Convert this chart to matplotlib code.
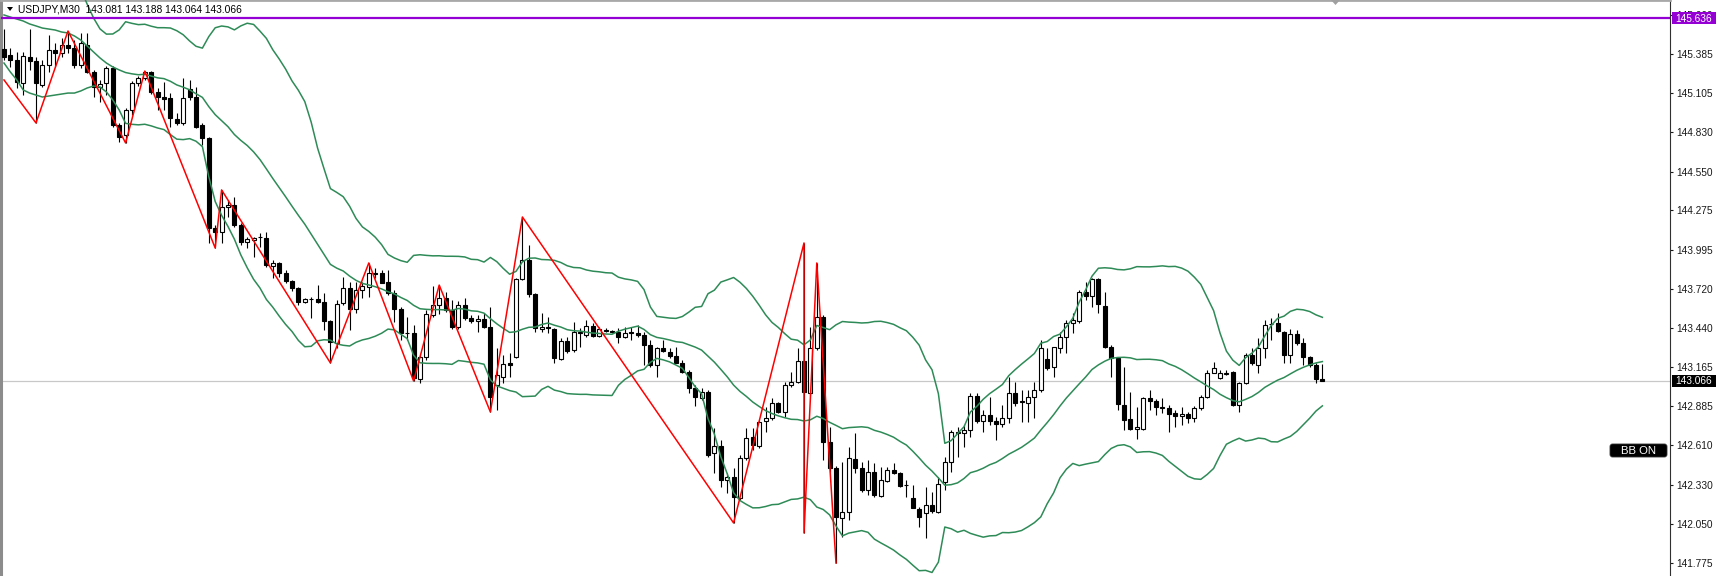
import matplotlib
matplotlib.use("Agg")
import matplotlib.pyplot as plt
import numpy as np
import pandas as pd
from matplotlib.patches import Rectangle, Polygon, FancyBboxPatch

# ---------------- data (USDJPY M30) ----------------
opens = [
    145.419, 145.377, 145.341, 145.179, 145.362, 145.334, 145.165, 145.306, 145.412, 145.391,
    145.448, 145.426, 145.306, 145.448, 145.257, 145.150, 145.179, 145.285, 144.880, 144.809,
    144.987, 145.179, 145.214, 145.256, 145.115, 145.079, 145.072, 144.923, 144.895, 145.136,
    145.079, 144.880, 144.788, 144.150, 144.122, 144.299, 144.314, 144.172, 144.051, 144.065,
    144.083, 144.079, 143.880, 143.902, 143.831, 143.774, 143.724, 143.625, 143.643, 143.646,
    143.625, 143.491, 143.335, 143.618, 143.724, 143.575, 143.710, 143.731, 143.831, 143.831,
    143.767, 143.689, 143.575, 143.406, 143.406, 143.079, 143.235, 143.533, 143.604, 143.653,
    143.568, 143.448, 143.604, 143.512, 143.491, 143.505, 143.448, 143.037, 143.094, 143.193,
    143.235, 143.788, 143.923, 143.682, 143.434, 143.448, 143.434, 143.221, 143.349, 143.285,
    143.413, 143.392, 143.455, 143.384, 143.427, 143.416, 143.413, 143.377, 143.413, 143.406,
    143.392, 143.320, 143.179, 143.299, 143.271, 143.242, 143.193, 143.129, 143.015, 142.944,
    142.987, 142.554, 142.604, 142.363, 142.384, 142.235, 142.519, 142.667, 142.604, 142.781,
    142.802, 142.909, 142.845, 143.037, 143.058, 143.207, 142.980, 143.299, 143.519, 142.632,
    142.448, 142.093, 142.136, 142.512, 142.448, 142.292, 142.420, 142.249, 142.356, 142.434,
    142.412, 142.327, 142.235, 142.157, 142.129, 142.186, 142.136, 142.349, 142.491, 142.696,
    142.696, 142.717, 142.958, 142.781, 142.824, 142.781, 142.760, 142.802, 142.980, 142.920,
    142.909, 142.951, 143.001, 143.221, 143.164, 143.299, 143.377, 143.477, 143.491, 143.696,
    143.668, 143.788, 143.597, 143.306, 143.228, 142.895, 142.795, 142.724, 142.724, 142.944,
    142.923, 142.877, 142.873, 142.838, 142.816, 142.831, 142.802, 142.873, 142.951, 143.122,
    143.086, 143.118, 143.129, 142.895, 143.051, 143.249, 143.179, 143.299, 143.466, 143.477,
    143.413, 143.249, 143.398, 143.335, 143.235, 143.179, 143.081,
]
highs = [
    145.561, 145.426, 145.398, 145.398, 145.561, 145.362, 145.341, 145.519, 145.462, 145.497,
    145.547, 145.483, 145.533, 145.533, 145.271, 145.200, 145.299, 145.299, 144.895, 145.001,
    145.193, 145.228, 145.263, 145.263, 145.143, 145.185, 145.107, 144.966, 145.214, 145.200,
    145.150, 144.895, 144.795, 144.172, 144.420, 144.349, 144.370, 144.186, 144.086, 144.086,
    144.115, 144.122, 143.923, 143.909, 143.852, 143.781, 143.731, 143.653, 143.660, 143.745,
    143.689, 143.498, 143.639, 143.802, 143.767, 143.767, 143.767, 143.902, 143.866, 143.852,
    143.852, 143.710, 143.590, 143.519, 143.462, 143.249, 143.568, 143.738, 143.745, 143.696,
    143.639, 143.632, 143.653, 143.533, 143.533, 143.547, 143.590, 143.299, 143.249, 143.264,
    143.795, 144.228, 144.030, 143.689, 143.547, 143.519, 143.441, 143.370, 143.377, 143.484,
    143.441, 143.498, 143.477, 143.448, 143.441, 143.427, 143.441, 143.448, 143.448, 143.462,
    143.413, 143.356, 143.306, 143.356, 143.299, 143.306, 143.214, 143.143, 143.037, 143.015,
    143.001, 142.731, 142.646, 142.412, 142.448, 142.540, 142.731, 142.731, 142.788, 142.880,
    142.944, 142.916, 143.058, 143.129, 143.299, 144.044, 143.448, 143.902, 143.533, 142.738,
    142.462, 142.491, 142.597, 142.696, 142.491, 142.505, 142.484, 142.455, 142.455, 142.484,
    142.420, 142.363, 142.327, 142.171, 142.313, 142.278, 142.384, 142.526, 142.717, 142.738,
    142.752, 142.980, 142.980, 142.859, 142.951, 142.810, 142.894, 143.094, 143.058, 143.001,
    143.001, 143.058, 143.356, 143.299, 143.306, 143.413, 143.498, 143.547, 143.710, 143.767,
    143.795, 143.795, 143.696, 143.320, 143.235, 143.164, 142.987, 142.880, 142.951, 143.001,
    142.937, 142.944, 142.894, 142.859, 142.880, 142.845, 142.887, 142.966, 143.143, 143.200,
    143.143, 143.143, 143.135, 143.058, 143.264, 143.299, 143.370, 143.498, 143.512, 143.547,
    143.420, 143.434, 143.427, 143.370, 143.240, 143.193, 143.188,
]
lows = [
    145.341, 145.291, 145.143, 145.094, 145.271, 144.895, 145.150, 145.257, 145.291, 145.362,
    145.391, 145.284, 145.284, 145.249, 145.079, 145.044, 145.094, 144.866, 144.760, 144.753,
    144.951, 145.157, 145.200, 145.100, 144.987, 144.987, 144.866, 144.880, 144.880, 145.058,
    144.859, 144.739, 144.044, 144.008, 144.044, 144.228, 144.157, 144.030, 144.008, 143.944,
    144.015, 143.873, 143.795, 143.802, 143.760, 143.703, 143.604, 143.618, 143.512, 143.618,
    143.427, 143.193, 143.299, 143.604, 143.427, 143.547, 143.653, 143.660, 143.795, 143.760,
    143.675, 143.484, 143.356, 143.356, 143.065, 143.051, 143.214, 143.519, 143.540, 143.554,
    143.434, 143.434, 143.498, 143.477, 143.413, 143.441, 142.845, 142.859, 143.051, 143.094,
    143.228, 143.781, 143.660, 143.413, 143.413, 143.406, 143.193, 143.214, 143.264, 143.271,
    143.306, 143.377, 143.377, 143.377, 143.413, 143.406, 143.335, 143.370, 143.356, 143.377,
    143.179, 143.165, 143.094, 143.271, 143.228, 143.193, 143.122, 142.980, 142.887, 142.930,
    142.526, 142.412, 142.313, 142.271, 142.058, 142.221, 142.505, 142.576, 142.590, 142.703,
    142.788, 142.838, 142.810, 143.022, 143.051, 141.987, 142.966, 143.285, 142.505, 142.420,
    141.774, 141.958, 142.079, 142.412, 142.278, 142.257, 142.242, 142.242, 142.349, 142.405,
    142.313, 142.242, 142.164, 142.029, 141.951, 142.129, 142.129, 142.292, 142.420, 142.526,
    142.597, 142.668, 142.767, 142.703, 142.753, 142.646, 142.738, 142.767, 142.887, 142.774,
    142.774, 142.802, 142.987, 143.143, 143.094, 143.264, 143.264, 143.406, 143.477, 143.639,
    143.590, 143.547, 143.299, 143.094, 142.859, 142.717, 142.717, 142.653, 142.717, 142.859,
    142.824, 142.838, 142.703, 142.738, 142.753, 142.767, 142.774, 142.859, 142.944, 143.122,
    143.079, 143.108, 142.887, 142.845, 143.044, 143.179, 143.122, 143.228, 143.356, 143.413,
    143.193, 143.193, 143.320, 143.179, 143.165, 143.051, 143.064,
]
closes = [
    145.362, 145.341, 145.186, 145.369, 145.334, 145.179, 145.306, 145.412, 145.391, 145.448,
    145.426, 145.306, 145.462, 145.257, 145.150, 145.172, 145.285, 144.880, 144.795, 144.987,
    145.179, 145.214, 145.256, 145.115, 145.079, 145.065, 144.930, 144.895, 145.072, 145.079,
    144.866, 144.788, 144.150, 144.122, 144.299, 144.314, 144.172, 144.051, 144.072, 144.079,
    144.086, 143.888, 143.902, 143.831, 143.774, 143.724, 143.625, 143.646, 143.646, 143.625,
    143.491, 143.342, 143.611, 143.724, 143.575, 143.710, 143.738, 143.831, 143.827, 143.760,
    143.689, 143.575, 143.406, 143.403, 143.086, 143.235, 143.540, 143.604, 143.653, 143.568,
    143.448, 143.604, 143.512, 143.491, 143.505, 143.448, 142.951, 143.108, 143.186, 143.179,
    143.788, 143.923, 143.682, 143.441, 143.448, 143.441, 143.228, 143.349, 143.278, 143.413,
    143.402, 143.455, 143.384, 143.434, 143.423, 143.413, 143.377, 143.406, 143.402, 143.392,
    143.320, 143.179, 143.299, 143.278, 143.242, 143.193, 143.129, 143.015, 142.951, 142.987,
    142.540, 142.604, 142.363, 142.384, 142.242, 142.519, 142.660, 142.611, 142.774, 142.802,
    142.909, 142.845, 143.037, 143.058, 143.207, 142.987, 143.299, 143.519, 142.632, 142.448,
    142.100, 142.136, 142.519, 142.448, 142.292, 142.420, 142.257, 142.363, 142.434, 142.412,
    142.320, 142.324, 142.164, 142.100, 142.186, 142.143, 142.334, 142.491, 142.703, 142.703,
    142.717, 142.958, 142.781, 142.824, 142.781, 142.760, 142.802, 142.980, 142.909, 142.916,
    142.951, 143.001, 143.299, 143.157, 143.306, 143.377, 143.477, 143.498, 143.696, 143.668,
    143.788, 143.611, 143.306, 143.228, 142.902, 142.788, 142.724, 142.738, 142.944, 142.923,
    142.880, 142.873, 142.831, 142.816, 142.831, 142.802, 142.873, 142.951, 143.122, 143.157,
    143.122, 143.122, 142.895, 143.051, 143.249, 143.193, 143.299, 143.462, 143.469, 143.420,
    143.249, 143.398, 143.335, 143.235, 143.179, 143.079, 143.066,
]

# Bollinger band values for the first bars (before a full 20-bar window)
bb_head_mid = [145.661, 145.646, 145.632, 145.618, 145.597, 145.583, 145.568, 145.561, 145.554, 145.540,
               145.533, 145.512, 145.483, 145.440, 145.398, 145.356, 145.320, 145.292, 145.271]
bb_head_low = [145.320, 145.256, 145.200, 145.129, 145.107, 145.093, 145.079, 145.086, 145.093, 145.100,
               145.107, 145.107, 145.122, 145.143, 145.157, 145.150, 145.115, 145.058, 144.987]
bb_period = 20
bb_dev = 2.0

# ZigZag swing points (bar index, price)
zz_bars = [0, 5, 10, 19, 22, 33, 34, 51, 57, 64, 68, 76, 81, 114, 125, 125, 127, 130]
zz_prices = [145.200, 144.895, 145.547, 144.753, 145.263, 144.008, 144.420, 143.193, 143.902,
             143.065, 143.745, 142.845, 144.228, 142.058, 144.044, 141.987, 143.902, 141.774]

level_price = 145.636
bid_price = 143.066
title_text = "USDJPY,M30  143.081 143.188 143.064 143.066"

tick_values = [145.660, 145.385, 145.105, 144.830, 144.550, 144.275, 143.995, 143.720,
               143.440, 143.165, 142.885, 142.610, 142.330, 142.050, 141.775]
tick_labels = ["145.660", "145.385", "145.105", "144.830", "144.550", "144.275", "143.995", "143.720",
               "143.440", "143.165", "142.885", "142.610", "142.330", "142.050", "141.775"]

# ---------------- figure ----------------
W, H = 1721, 576
FONT = "Liberation Sans"
plt.rcParams["font.family"] = [FONT, "DejaVu Sans"]

fig = plt.figure(figsize=(W / 100, H / 100), dpi=100)
fig.patch.set_facecolor("white")

AX_L, AX_R = 1, 1670
ax = fig.add_axes([AX_L / W, 0, (AX_R - AX_L) / W, 1])
ax.set_facecolor("white")
bar_px = 6.4
first_px = 4
xmin = -(first_px - AX_L) / bar_px
ax.set_xlim(xmin, xmin + (AX_R - AX_L) / bar_px)
price_top = 145.767
px_per_price = 141.0
ax.set_ylim(price_top - H / px_per_price, price_top)

o = np.array(opens)
h = np.array(highs)
l = np.array(lows)
c = np.array(closes)
x = np.arange(len(c))

# bid line and level line
ax.axhline(bid_price, color="#c8c8c8", lw=0.9, zorder=1)
ax.axhline(level_price, color="#9400d3", lw=1.6, zorder=6)

# candles
ax.vlines(x, l, h, color="#000000", lw=0.8, zorder=3)
bull = c >= o
bottom = np.minimum(o, c)
height = np.abs(c - o)
ax.bar(x[bull], height[bull], bottom=bottom[bull], width=0.64,
       facecolor="white", edgecolor="black", lw=0.8, zorder=4)
ax.bar(x[~bull], height[~bull], bottom=bottom[~bull], width=0.64,
       facecolor="black", edgecolor="black", lw=0.8, zorder=4)

# Bollinger bands
cs = pd.Series(c)
mid = cs.rolling(bb_period).mean().to_numpy()
sd = cs.rolling(bb_period).std(ddof=0).to_numpy()
upper = mid + bb_dev * sd
lower = mid - bb_dev * sd
nh = len(bb_head_mid)
mid[:nh] = bb_head_mid
lower[:nh] = bb_head_low
upper[:nh] = 2 * np.array(bb_head_mid) - np.array(bb_head_low)
for band in (upper, mid, lower):
    ax.plot(x, band, color="#2e8b57", lw=1.1, zorder=5, solid_joinstyle="round")

# zigzag
ax.plot(zz_bars, zz_prices, color="#ff0000", lw=1.1, zorder=6)

# axes styling
for s in ("bottom",):
    ax.spines[s].set_visible(False)
ax.spines["left"].set_color("#8c8c8c")
ax.spines["left"].set_linewidth(2.2)
ax.spines["top"].set_color("#a8a8a8")
ax.spines["top"].set_linewidth(2.0)
ax.spines["right"].set_color("#303030")
ax.spines["right"].set_linewidth(0.8)
ax.set_xticks([])
ax.yaxis.tick_right()
ax.set_yticks(tick_values)
ax.set_yticklabels(tick_labels)
ax.tick_params(axis="y", direction="out", length=2.5, width=0.8, pad=2.2,
               labelsize=7.3, colors="#1a1a1a")


def fx(px):
    return px / W


def fy(py):
    return 1 - py / H


# price label boxes on the axis
fig.add_artist(Rectangle((fx(1672), fy(24)), 44 / W, 11.5 / H, transform=fig.transFigure,
                         facecolor="#9400d3", edgecolor="none", zorder=10))
fig.text(fx(1694), fy(18.5), "145.636", color="white", fontsize=7.3, ha="center", va="center", zorder=11)
fig.add_artist(Rectangle((fx(1672), fy(387)), 44 / W, 12 / H, transform=fig.transFigure,
                         facecolor="black", edgecolor="none", zorder=10))
fig.text(fx(1694), fy(381), "143.066", color="white", fontsize=7.3, ha="center", va="center", zorder=11)

# BB ON button
fig.add_artist(FancyBboxPatch((fx(1610), fy(457)), 57 / W, 13 / H,
                              boxstyle="round,pad=0,rounding_size=0.0015",
                              mutation_aspect=W / H, transform=fig.transFigure,
                              facecolor="black", edgecolor="#303030", lw=0.6, zorder=10))
fig.text(fx(1638.5), fy(450.5), "BB ON", color="white", fontsize=8.2, ha="center", va="center", zorder=11)

# title with dropdown arrow
fig.add_artist(Polygon([[fx(7), fy(7)], [fx(13), fy(7)], [fx(10), fy(11)]], closed=True,
                       transform=fig.transFigure, facecolor="black", edgecolor="none", zorder=10))
fig.text(fx(18), fy(9.5), title_text, color="black", fontsize=7.4, ha="left", va="center", zorder=11)

# chart-shift marker at the top
fig.add_artist(Polygon([[fx(1331), fy(0)], [fx(1340), fy(0)], [fx(1335.5), fy(5)]], closed=True,
                       transform=fig.transFigure, facecolor="#a0a0a0", edgecolor="none", zorder=10))

fig.savefig("out.png", dpi=100, facecolor="white")
